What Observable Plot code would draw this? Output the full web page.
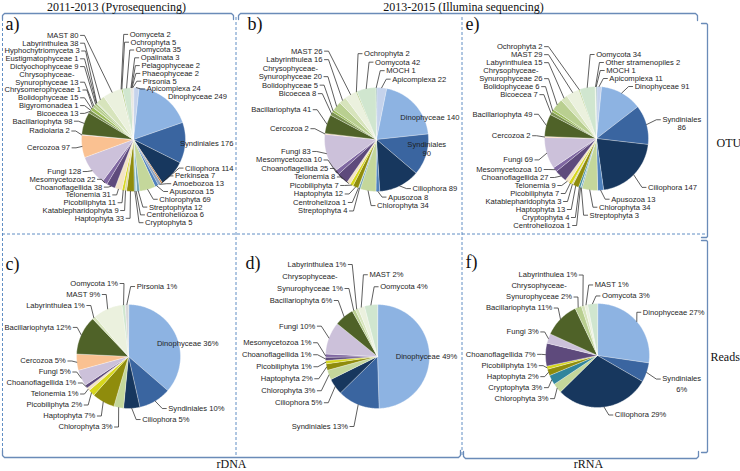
<!DOCTYPE html>
<html><head><meta charset="utf-8">
<script src="https://cdn.jsdelivr.net/npm/d3@7"></script>
<script src="https://cdn.jsdelivr.net/npm/@observablehq/plot@0.6"></script>
<style>body{margin:0;background:#fff}#chart{width:740px;height:471px;overflow:hidden}</style>
</head><body><div id="chart"></div>
<script>
// ---------------- DATA ----------------
// a) OTU, rDNA 2011-2013 (pyrosequencing)
const taxaA = ["Apicomplexa","Dinophyceae","Syndiniales","Ciliophora","Perkinsea","Amoebozoa","Apusozoa","Chlorophyta","Streptophyta","Centroheliozoa","Cryptophyta","Haptophyta","Katablepharidophyta","Picobiliphyta","Telonemia","Choanoflagellida","Mesomycetozoa","Fungi","Cercozoa","Radiolaria","Bacillariophyta","Bicoecea","Bigyromonadea","Bolidophyceae","Chrysomerophyceae","Chrysophyceae-Synurophyceae","Dictyochophyceae","Eustigmatophyceae","Hyphochytriomyceta","Labyrinthulea","MAST","Oomyceta","Ochrophyta","Oomycota","Opalinata","Pelagophyceae","Phaeophyceae","Pirsonia"];
const otuA = [24,249,176,114,7,13,15,69,12,6,5,33,9,11,31,38,22,128,97,2,98,13,1,15,1,13,9,1,3,38,80,2,5,35,3,2,2,5];
// b) OTU, rDNA 2013-2015 (Illumina)
const taxaB = ["Apicomplexa","Dinophyceae","Syndiniales","Ciliophora","Apusozoa","Chlorophyta","Streptophyta","Centrohelizoa","Haptophyta","Picobiliphyta","Telonemia","Choanoflagellida","Mesomycetozoa","Fungi","Cercozoa","Bacillariophyta","Bicoecea","Bolidophyceae","Chrysophyceae-Synurophyceae","Labyrinthulea","MAST","Ochrophyta","Oomycota","MOCH"];
const otuB = [22,140,90,89,8,34,4,1,12,7,8,25,10,83,2,41,8,5,20,16,26,2,42,1];
// e) OTU, rRNA 2013-2015 (Illumina)
const taxaE = ["Apicomplexa","Dinophyceae","Syndiniales","Ciliophora","Apusozoa","Chlorophyta","Streptophyta","Centroheliozoa","Cryptophyta","Haptophyta","Katablepharidophyta","Picobiliphyta","Telonemia","Choanoflagellida","Mesomycetozoa","Fungi","Cercozoa","Bacillariophyta","Bicoecea","Bolidophyceae","Chrysophyceae-Synurophyceae","Labyrinthulea","MAST","Ochrophyta","Oomycota","Other stramenopiles","MOCH"];
const otuE = [11,91,86,147,13,34,3,1,4,13,3,7,9,27,10,69,2,49,7,6,26,15,29,2,34,2,1];
// c) Reads %, rDNA 2011-2013
const taxaC = ["Dinophyceae","Syndiniales","Ciliophora","Chlorophyta","Haptophyta","Picobiliphyta","Telonemia","Choanoflagellida","Fungi","Cercozoa","Bacillariophyta","Labyrinthulea","MAST","Oomycota","Pirsonia"];
const readsC = [36,10,5,3,7,2,1,1,5,5,12,1,9,1,1];
// d) Reads %, rDNA 2013-2015
const taxaD = ["Dinophyceae","Syndiniales","Ciliophora","Chlorophyta","Haptophyta","Picobiliphyta","Choanoflagellida","Mesomycetozoa","Fungi","Bacillariophyta","Chrysophyceae-Synurophyceae","Labyrinthulea","MAST","Oomycota"];
const readsD = [49,13,5,3,2,1,1,1,10,6,1,1,2,4];
// f) Reads %, rRNA 2013-2015
const taxaF = ["Dinophyceae","Syndiniales","Ciliophora","Chlorophyta","Cryptophyta","Haptophyta","Picobiliphyta","Choanoflagellida","Fungi","Bacillariophyta","Chrysophyceae-Synurophyceae","Labyrinthulea","MAST","Oomycota"];
const readsF = [27,6,29,3,3,2,1,7,3,11,2,1,1,3];

const headerLabels = ["2011-2013 (Pyrosequencing)","2013-2015 (Illumina sequencing)"];
const rowLabels = ["OTU","Reads"];
const colLabels = ["rDNA","rRNA"];
const panelNames = ["a)","b)","e)","c)","d)","f)"];

// ---------------- STYLE ----------------
const taxonColor = {
  "Apicomplexa":"#c5d3ec","Dinophyceae":"#8db3e2","Syndiniales":"#3a65a0","Ciliophora":"#17375e",
  "Perkinsea":"#c0793c","Amoebozoa":"#8ea3bf","Apusozoa":"#4f81bd","Chlorophyta":"#c4d79b",
  "Streptophyta":"#6fa3b3","Centroheliozoa":"#b7dee8","Centrohelizoa":"#b7dee8","Cryptophyta":"#31859c",
  "Haptophyta":"#8f8c0c","Katablepharidophyta":"#d8d3a0","Picobiliphyta":"#d6d61c","Telonemia":"#f3e4c4",
  "Choanoflagellida":"#5e4a7c","Mesomycetozoa":"#7f67a1","Fungi":"#ccc1da","Cercozoa":"#fac191",
  "Radiolaria":"#e6b9b8","Bacillariophyta":"#4f6228","Bicoecea":"#7a9050","Bigyromonadea":"#8aa35a",
  "Bolidophyceae":"#9bbb59","Chrysomerophyceae":"#b3c98a","Chrysophyceae-Synurophyceae":"#b9cf90",
  "Dictyochophyceae":"#a9c47f","Eustigmatophyceae":"#d7e4bc","Hyphochytriomyceta":"#c6d9b0",
  "Labyrinthulea":"#d7e4bc","MAST":"#ebf1de","Oomyceta":"#d9d9d9","Ochrophyta":"#9bbb59",
  "Oomycota":"#d0e6cf","Opalinata":"#bfbfbf","Pelagophyceae":"#c4bd97","Phaeophyceae":"#948a54",
  "Pirsonia":"#d9d9d9","MOCH":"#2a7070","Other stramenopiles":"#e3ecd6"
};
const FONT = "Liberation Sans";
const SERIF = "Liberation Serif";
const LABEL_SIZE = 7.6;

// ---------------- LAYOUT ----------------
const panels = [
  {id:"a", taxa:taxaA, values:otuA, pct:false, cx:133, cy:139, r:52, topSplit:340, bottomSplit:180,
   rTopL:95, rTopR:88, rBotL:62, rBotR:62, rl:58, gapL:6, gapR:10, alignL:55, inFac:0.6, lh:7.8, yMin:30, yMax:228,
   xMin:4, xMax:233, inside:[], noLine:["Dinophyceae","Syndiniales"], twoLine:[]},
  {id:"b", taxa:taxaB, values:otuB, pct:false, cx:376, cy:139, r:52, topSplit:335, bottomSplit:195,
   rTopL:100, rTopR:75, rBotL:54, rBotR:60, rl:58, gapL:10, gapR:10, alignL:54, inFac:0.62, lh:8.5, yMin:34, yMax:226,
   xMin:238, xMax:459, inside:["Dinophyceae","Syndiniales"], noLine:[], twoLine:["Syndiniales"]},
  {id:"e", taxa:taxaE, values:otuE, pct:false, cx:596, cy:138, r:52, topSplit:345, bottomSplit:197.5,
   rTopL:95, rTopR:70, rBotL:75, rBotR:70, rl:58, gapL:8, gapR:10, alignL:54, inFac:0.6, lh:8, yMin:38, yMax:229,
   xMin:464, xMax:704, inside:[], noLine:[], twoLine:["Syndiniales"]},
  {id:"c", taxa:taxaC, values:readsC, pct:true, cx:128, cy:356, r:52, topSplit:356, bottomSplit:180,
   rTopL:70, rTopR:70, rBotL:62, rBotR:62, rl:58, gapL:5, gapR:10, alignL:null, inFac:0.6, lh:11, yMin:262, yMax:432,
   xMin:4, xMax:233, inside:["Dinophyceae"], noLine:[], twoLine:[]},
  {id:"d", taxa:taxaD, values:readsD, pct:true, cx:377, cy:356, r:52, topSplit:340, bottomSplit:180,
   rTopL:85, rTopR:78, rBotL:76, rBotR:76, rl:58, gapL:8, gapR:10, alignL:null, inFac:0.35, lh:12, yMin:258, yMax:432,
   xMin:238, xMax:459, inside:["Dinophyceae"], noLine:[], twoLine:[]},
  {id:"f", taxa:taxaF, values:readsF, pct:true, cx:597, cy:355, r:52, topSplit:345, bottomSplit:180,
   rTopL:72, rTopR:66, rBotL:64, rBotR:72, rl:58, gapL:4, gapR:10, alignL:null, inFac:0.6, lh:11, yMin:266, yMax:420,
   xMin:464, xMax:704, inside:[], noLine:[], twoLine:["Syndiniales"]}
];

const ctx = document.createElement("canvas").getContext("2d");
function textWidth(s, size){ ctx.font = `${size}px "${FONT}"`; return ctx.measureText(s).width; }

function labelText(p, name, v){
  const num = p.pct ? v + "%" : String(v);
  if (name === "Chrysophyceae-Synurophyceae") return ["Chrysophyceae-", "Synurophyceae " + num];
  if (p.twoLine.includes(name)) return [name, num];
  return [name + " " + num];
}

// isotonic relaxation of label block centres (pool adjacent violators)
function relax(items, top, bottom){
  if (!items.length) return;
  const offs = []; let o = 0;
  items.forEach((it,i)=>{ if (i>0) o += (items[i-1].h + it.h)/2; offs.push(o); });
  const blocks = [];
  items.forEach((it,i)=>{
    blocks.push({sum: it.ideal - offs[i], n:1});
    while (blocks.length>1 && blocks[blocks.length-2].sum/blocks[blocks.length-2].n > blocks[blocks.length-1].sum/blocks[blocks.length-1].n){
      const b = blocks.pop(); blocks[blocks.length-1].sum += b.sum; blocks[blocks.length-1].n += b.n;
    }
  });
  const fit = []; blocks.forEach(b=>{ for(let k=0;k<b.n;k++) fit.push(b.sum/b.n); });
  const lo = top + items[0].h/2, hi = bottom - items[items.length-1].h/2 - offs[offs.length-1];
  items.forEach((it,i)=>{ let v = Math.max(fit[i], lo); v = Math.min(v, hi); it.c = v + offs[i]; });
}

const sliceRows = [], leaderRows = [], textRows = [];
panels.forEach(p=>{
  const data = p.taxa.map((t,i)=>({name:t, value:p.values[i]}));
  const arcs = d3.pie().sort(null).value(d=>d.value)(data);
  const labels = [];
  arcs.forEach((a,i)=>{
    const id = p.id + i;
    const n = Math.max(2, Math.ceil((a.endAngle - a.startAngle)/(Math.PI/180)));
    sliceRows.push({id, x:p.cx, y:p.cy, color:taxonColor[a.data.name]});
    for (let k=0;k<=n;k++){
      const t = a.startAngle + (a.endAngle - a.startAngle)*k/n;
      sliceRows.push({id, x:p.cx + p.r*Math.sin(t), y:p.cy - p.r*Math.cos(t), color:taxonColor[a.data.name]});
    }
    const mid = (a.startAngle + a.endAngle)/2, deg = mid*180/Math.PI;
    const lines = labelText(p, a.data.name, a.data.value);
    const widths = lines.map(s=>textWidth(s, LABEL_SIZE));
    const w = Math.max(...widths);
    const k = widths.indexOf(w);
    const side = p.inside.includes(a.data.name) ? "in" : (deg > p.topSplit || deg < p.bottomSplit) ? "R" : "L";
    const R = Math.cos(mid) > 0 ? (side==="L" ? p.rTopL : p.rTopR) : (side==="L" ? p.rBotL : p.rBotR);
    const yIdeal = p.cy - R*Math.cos(mid);
    const h = lines.length * p.lh;
    labels.push({id, name:a.data.name, mid, deg, lines, w, k, side, h,
      ideal: yIdeal - (k - (lines.length-1)/2)*p.lh});
  });
  const right = labels.filter(l=>l.side==="R").sort((A,B)=>((A.deg-p.topSplit+360)%360)-((B.deg-p.topSplit+360)%360));
  const left = labels.filter(l=>l.side==="L").sort((A,B)=>((p.topSplit-A.deg+360)%360)-((p.topSplit-B.deg+360)%360));
  relax(right, p.yMin, p.yMax); relax(left, p.yMin, p.yMax);
  labels.forEach(l=>{
    const px = p.cx + p.r*Math.sin(l.mid), py = p.cy - p.r*Math.cos(l.mid);
    const n = l.lines.length;
    if (l.side === "in"){
      const x0 = p.cx + p.inFac*p.r*Math.sin(l.mid), y0 = p.cy - p.inFac*p.r*Math.cos(l.mid);
      l.lines.forEach((s,j)=>{
        const y = y0 + (j-(n-1)/2)*p.lh;
        if (n===1) textRows.push({x:x0, y, text:s, anchor:"start"});
        else textRows.push({x:x0 + l.w/2, y, text:s, anchor:"middle"});
      });
      return;
    }
    const dir = l.side==="R" ? 1 : -1;
    const noLine = p.noLine.includes(l.name);
    let xa;
    if (noLine) xa = p.cx + p.r*Math.sin(l.mid) + dir*2;
    else {
      xa = p.cx + p.rl*Math.sin(l.mid) + dir*(l.side==="R" ? p.gapR : p.gapL);
      if (l.side==="L" && p.alignL != null && l.deg >= 270) xa = Math.min(xa, p.cx - p.alignL);
    }
    // keep the label inside its panel
    if (dir>0) xa = Math.min(xa, p.xMax - l.w); else xa = Math.max(xa, p.xMin + l.w);
    l.lines.forEach((s,j)=>{
      const y = l.c + (j-(n-1)/2)*p.lh;
      if (n===1) textRows.push({x:xa, y, text:s, anchor: dir>0 ? "start" : "end"});
      else textRows.push({x:xa + dir*l.w/2, y, text:s, anchor:"middle"});
    });
    if (!noLine){
      const ya = l.c + (l.k-(n-1)/2)*p.lh;
      leaderRows.push({id:l.id, x:xa - dir*2, y:ya});
      leaderRows.push({id:l.id, x:xa - dir*6, y:ya});
      leaderRows.push({id:l.id, x:px, y:py});
    }
  });
});

// panel frame (dashed boxes and brackets)
const dashedV = [{x:2, y1:18, y2:450},{x:235.5, y1:17, y2:455},{x:461.5, y1:17, y2:455}];
const dashedH = [{y:233.5, x1:2, x2:706}];
const brackets = [
  {id:"top1", pts:[[2,19],[2,15],[4,13],[231,13],[233,15],[233,19]]},
  {id:"top2", pts:[[238,19],[238,15],[240,13],[695,13],[697,15],[697,20]]},
  {id:"otu", pts:[[701,23],[706,23],[707,24],[707,236],[706,237],[701,237]]},
  {id:"reads", pts:[[701,240],[706,240],[707,241],[707,451],[706,452],[701,452]]},
  {id:"rdna", pts:[[2,450],[2,455],[4,457],[458,457],[460,455],[460,450]]},
  {id:"rrna", pts:[[463,451],[463,456],[465,458],[696,458],[698,456],[698,451]]}
];
const bracketRows = brackets.flatMap(b=>b.pts.map(([x,y])=>({id:b.id, x, y})));
const serifTexts = [
  {x:116, y:7, text:headerLabels[0], size:12, anchor:"middle"},
  {x:463, y:7, text:headerLabels[1], size:12, anchor:"middle"},
  {x:716, y:143, text:rowLabels[0], size:12, anchor:"start"},
  {x:710, y:357, text:rowLabels[1], size:12, anchor:"start"},
  {x:231, y:463.5, text:colLabels[0], size:12, anchor:"middle"},
  {x:588, y:463.5, text:colLabels[1], size:12, anchor:"middle"}
];
const letterPos = [[5,24],[247,24],[465,24],[5,264],[245,263],[465,262]];
const panelLetters = panelNames.map((t,i)=>({x:letterPos[i][0], y:letterPos[i][1], text:t}));

const chart = Plot.plot({
  width:740, height:471, margin:0,
  x:{domain:[0,740], range:[0,740], axis:null},
  y:{domain:[0,471], range:[0,471], axis:null},
  color:{type:"identity"},
  style:{background:"white", fontFamily:FONT, overflow:"visible"},
  marks:[
    Plot.ruleX(dashedV, {x:"x", y1:"y1", y2:"y2", stroke:"#4f81bd", strokeWidth:0.9, strokeDasharray:"3,2"}),
    Plot.ruleY(dashedH, {y:"y", x1:"x1", x2:"x2", stroke:"#4f81bd", strokeWidth:0.9, strokeDasharray:"3,2"}),
    Plot.line(bracketRows, {x:"x", y:"y", z:"id", stroke:"#6a8bb8", strokeWidth:1.3, curve:"linear"}),
    Plot.line(sliceRows, {x:"x", y:"y", z:"id", fill:"color", stroke:"white", strokeWidth:0.35, curve:"linear-closed"}),
    Plot.line(leaderRows, {x:"x", y:"y", z:"id", stroke:"#2a2a2a", strokeWidth:0.75, curve:"linear"}),
    Plot.text(textRows.filter(d=>d.anchor==="start"), {x:"x", y:"y", text:"text", textAnchor:"start", fontSize:LABEL_SIZE, fill:"#1e1e1e", fontFamily:FONT}),
    Plot.text(textRows.filter(d=>d.anchor==="end"), {x:"x", y:"y", text:"text", textAnchor:"end", fontSize:LABEL_SIZE, fill:"#1e1e1e", fontFamily:FONT}),
    Plot.text(textRows.filter(d=>d.anchor==="middle"), {x:"x", y:"y", text:"text", textAnchor:"middle", fontSize:LABEL_SIZE, fill:"#1e1e1e", fontFamily:FONT}),
    Plot.text(serifTexts.filter(d=>d.anchor==="middle"), {x:"x", y:"y", text:"text", fontSize:"size", textAnchor:"middle", fill:"#111", fontFamily:SERIF}),
    Plot.text(serifTexts.filter(d=>d.anchor==="start"), {x:"x", y:"y", text:"text", fontSize:"size", textAnchor:"start", fill:"#111", fontFamily:SERIF}),
    Plot.text(panelLetters, {x:"x", y:"y", text:"text", fontSize:18, textAnchor:"start", fill:"#111", fontFamily:SERIF})
  ]
});
document.getElementById("chart").appendChild(chart);
</script>
</body></html>
